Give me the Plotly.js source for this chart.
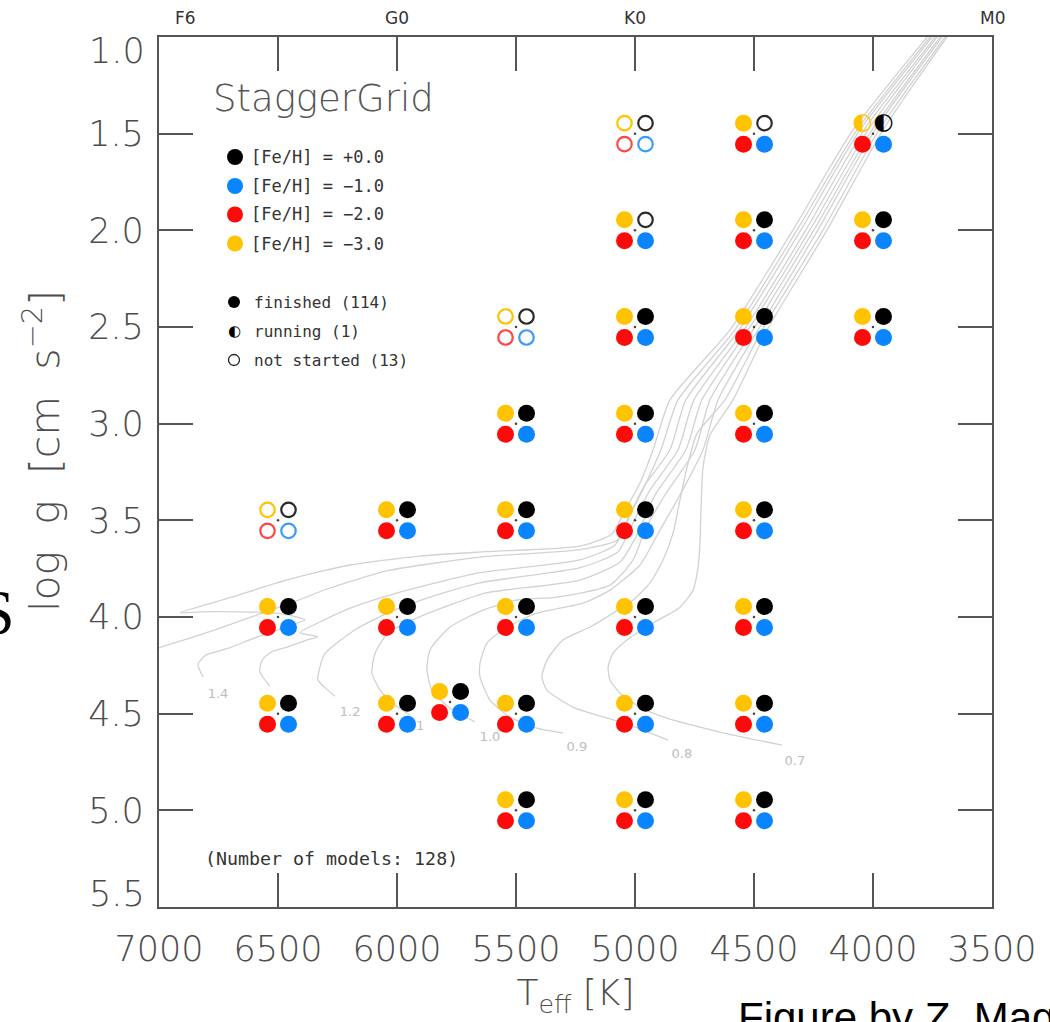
<!DOCTYPE html>
<html><head><meta charset="utf-8">
<script src="https://cdn.plot.ly/plotly-3.0.1.min.js"></script>
<style>html,body{margin:0;padding:0;background:#fff}#chart{width:1050px;height:1022px}</style>
</head><body><div id="chart"></div>
<script>
// ---------------- DATA ----------------
// StaggerGrid model positions (Teff [K], log g)
const gridTeff = [5000,4500,4000, 5000,4500,4000, 5500,5000,4500,4000, 5500,5000,4500,
                  6500,6000,5500,5000,4500, 6500,6000,5500,5000,4500,
                  6500,6000,5777,5500,5000,4500, 5500,5000,4500];
const gridLogg = [1.5,1.5,1.5, 2.0,2.0,2.0, 2.5,2.5,2.5,2.5, 3.0,3.0,3.0,
                  3.5,3.5,3.5,3.5,3.5, 4.0,4.0,4.0,4.0,4.0,
                  4.5,4.5,4.44,4.5,4.5,4.5, 5.0,5.0,5.0];
// status per model: f = finished, r = running, n = not started
const statusFeH_p0 = 'nnrnffnffffffn' + 'ffffffffffffffffff';
const statusFeH_m1 = 'nfffffnffffffn' + 'ffffffffffffffffff';
const statusFeH_m2 = 'nfffffnffffffn' + 'ffffffffffffffffff';
const statusFeH_m3 = 'nfrfffnffffffn' + 'ffffffffffffffffff';
const fehLegend = ['[Fe/H] = +0.0','[Fe/H] = \u22121.0','[Fe/H] = \u22122.0','[Fe/H] = \u22123.0'];
const statusLegend = ['finished (114)','running (1)','not started (13)'];
const modelCountText = '(Number of models: 128)';

// evolutionary tracks (Teff, log g)
const track15Teff = [7080,6987,6828,6681,6584,6408,6303,6038,5630,5231,5071,5021,4958,4891,4819,4580,4319,4067,3761,3706];
const track15Logg = [4.197,4.154,4.093,4.030,3.988,3.910,3.859,3.760,3.688,3.652,3.601,3.473,3.318,3.135,2.877,2.515,1.998,1.481,1.000,0.912];
const track14Teff = [6815,6836,6803,6714,6584,6450,6387,6492,6660,6828,6912,6702,6458,6197,5903,5630,5231,5097,5046,4979,4924,4853,4601,4336,4084,3773,3718];
const track14Logg = [4.311,4.244,4.197,4.164,4.102,4.045,4.014,3.983,3.973,3.973,3.978,3.900,3.807,3.731,3.685,3.662,3.633,3.571,3.457,3.307,3.135,2.877,2.515,1.998,1.481,1.000,0.912];
const track13Teff = [6534,6576,6567,6525,6458,6374,6332,6408,6324,6197,5987,5651,5231,5084,5029,4958,4853,4786,4563,4303,4055,3752,3697];
const track13Logg = [4.357,4.285,4.223,4.179,4.154,4.117,4.102,4.081,4.026,3.954,3.871,3.771,3.704,3.628,3.488,3.317,3.135,2.877,2.515,1.998,1.481,1.000,0.912];
const track12Teff = [6261,6303,6332,6324,6303,6176,6029,5861,5651,5231,5071,5013,4937,4819,4752,4542,4282,4038,3739,3685];
const track12Logg = [4.410,4.364,4.326,4.259,4.190,4.066,3.973,3.897,3.823,3.745,3.662,3.524,3.343,3.135,2.877,2.515,1.998,1.481,1.000,0.912];
const track11Teff = [5945,6008,6071,6105,6092,6038,5937,5756,5630,5231,5063,4992,4916,4786,4719,4525,4265,4021,3731,3676];
const track11Logg = [4.507,4.456,4.378,4.290,4.187,4.083,4.016,3.928,3.876,3.809,3.716,3.576,3.369,3.135,2.877,2.515,1.998,1.481,1.000,0.912];
const track10Teff = [5672,5777,5853,5874,5861,5777,5639,5496,5328,5105,5008,4958,4874,4748,4685,4504,4248,4004,3718,3664];
const track10Logg = [4.543,4.471,4.378,4.275,4.169,4.052,3.964,3.912,3.897,3.835,3.705,3.550,3.369,3.135,2.877,2.515,1.998,1.481,1.000,0.912];
const track09Teff = [5303,5412,5525,5609,5651,5651,5622,5538,5412,5218,5105,4979,4895,4811,4714,4651,4483,4231,3992,3710,3655];
const track09Logg = [4.600,4.575,4.518,4.430,4.311,4.238,4.135,4.052,3.980,3.928,3.861,3.731,3.550,3.369,3.135,2.877,2.515,1.998,1.481,1.000,0.912];
const track08Teff = [4861,5021,5261,5370,5391,5370,5303,5189,5092,5008,4937,4882,4840,4811,4781,4739,4622,4466,4210,3975,3697,3643];
const track08Logg = [4.637,4.559,4.466,4.378,4.311,4.223,4.119,4.052,3.980,3.912,3.824,3.705,3.566,3.395,3.224,3.049,2.877,2.515,1.998,1.481,1.000,0.912];
const track07Teff = [4382,4643,4866,4979,5063,5105,5113,5092,5034,4924,4811,4756,4735,4727,4723,4714,4685,4588,4445,4193,3958,3689,3634];
const track07Logg = [4.663,4.595,4.523,4.466,4.394,4.326,4.259,4.187,4.119,4.031,3.949,3.861,3.742,3.618,3.447,3.224,3.059,2.877,2.515,1.998,1.481,1.000,0.912];

// mass labels of the tracks
const massLabel = ['1.4','1.2','1.1','1.0','0.9','0.8','0.7'];
const massLabelTeff = [6752,6197,5929,5609,5244,4803,4328];
const massLabelLogg = [4.404,4.497,4.569,4.626,4.678,4.714,4.750];

// spectral types on the top axis
const spTypes = ['F6','G0','K0','M0'];
const spTeff  = [6890,6000,5000,3500];

const xTicks = [7000,6500,6000,5500,5000,4500,4000,3500];
const yTicksInner = [1.5,2.0,2.5,3.0,3.5,4.0,4.5,5.0];
const yTicksEdge = [1.0,5.5];   // labelled slightly inside the frame, as in the original
const xTitle = 'T<sub>eff</sub>\u00a0[K]';
const yTitle = 'log\u00a0\u00a0g\u00a0\u00a0[cm\u00a0\u00a0s<sup>\u22122</sup>]';

// ---------------- LAYOUT GEOMETRY ----------------
const W = 1050, H = 1022, PL = 159, PR = 992, PT = 37, PB = 907;
const xMin = 7000, xMax = 3500, yMin = 1.0, yMax = 5.5;
const kPerPx = (xMin - xMax) / (PR - PL);
const gPerPx = (yMax - yMin) / (PB - PT);
const quadPx = 10.5;               // offset of each sub-marker from the grid point
const dX = quadPx * kPerPx, dY = quadPx * gPerPx;
const px = v => (v - PL) / (PR - PL);
const py = v => (PB - v) / (PB - PT);

const grey = '#4d4d4d';
const tickFont = {family: 'DejaVu Sans', size: 35, color: grey, weight: 200};
const titleFont = {family: 'DejaVu Sans', size: 36, color: grey, weight: 200};
const traces = [];

// tracks
const tracks = [
  [track15Teff, track15Logg], [track14Teff, track14Logg], [track13Teff, track13Logg],
  [track12Teff, track12Logg], [track11Teff, track11Logg], [track10Teff, track10Logg],
  [track09Teff, track09Logg], [track08Teff, track08Logg], [track07Teff, track07Logg]
];
tracks.forEach(t => traces.push({
  type: 'scatter', mode: 'lines', x: t[0], y: t[1], hoverinfo: 'skip', showlegend: false,
  line: {color: '#d2d2d2', width: 1.3, shape: 'spline', smoothing: 0.6}
}));
// mass labels (drawn beneath the markers)
traces.push({
  type: 'scatter', mode: 'text', x: massLabelTeff, y: massLabelLogg, text: massLabel,
  textposition: 'middle center', showlegend: false, hoverinfo: 'skip',
  textfont: {family: 'DejaVu Sans', size: 13, color: '#bdbdbd'}
});
// grid-point centre dots
traces.push({
  type: 'scatter', mode: 'markers', x: gridTeff, y: gridLogg, showlegend: false, hoverinfo: 'skip',
  marker: {size: 2.5, color: '#444'}
});

// metallicity markers
const fehSets = [
  {status: statusFeH_p0, fill: '#000000', ring: '#2a2a2a', sx: -1, sy: -1},
  {status: statusFeH_m1, fill: '#0a84ff', ring: '#3a9bff', sx: -1, sy: 1},
  {status: statusFeH_m2, fill: '#ff0a0a', ring: '#ff4646', sx: 1, sy: 1},
  {status: statusFeH_m3, fill: '#ffc300', ring: '#ffc300', sx: 1, sy: -1}
];
fehSets.forEach((s, k) => {
  const pick = code => {
    const xs = [], ys = [];
    gridTeff.forEach((t, i) => { if (s.status[i] === code) { xs.push(t + s.sx * dX); ys.push(gridLogg[i] + s.sy * dY); } });
    return [xs, ys];
  };
  const [fx, fy] = pick('f'), [nx, ny] = pick('n'), [rx, ry] = pick('r');
  traces.push({type: 'scatter', mode: 'markers', x: fx, y: fy, name: fehLegend[k], showlegend: false,
    marker: {size: 17, color: s.fill, line: {width: 0}}});
  if (nx.length) traces.push({type: 'scatter', mode: 'markers', x: nx, y: ny, showlegend: false,
    marker: {symbol: 'circle-open', size: 14.5, color: s.ring, line: {width: 2.2, color: s.ring}}});
  if (rx.length) traces.push({type: 'scatter', mode: 'text', x: rx, y: ry, text: rx.map(() => '\u25D0'),
    textposition: 'middle center', showlegend: false,
    textfont: {family: 'DejaVu Sans', size: 23, color: s.fill}});
});

// ---------------- ANNOTATIONS / SHAPES ----------------
const annotations = [];
const shapes = [];
spTypes.forEach((s, i) => annotations.push({
  text: s, x: spTeff[i], xref: 'x', y: py(18), yref: 'paper', showarrow: false,
  xanchor: 'center', yanchor: 'middle', font: {family: 'DejaVu Sans', size: 17, color: '#333'}
}));
// edge tick labels of the y axis (shifted inside the frame like the original)
yTicksEdge.forEach((v, i) => annotations.push({
  text: v.toFixed(1), x: 0, xref: 'paper', xanchor: 'right', xshift: -12, y: v, yref: 'y',
  yanchor: 'middle', yshift: i === 0 ? -14 : 13, showarrow: false, font: tickFont
}));
// y-axis title (rotated), placed like the original
annotations.push({text: yTitle, textangle: -90, x: px(42), y: py(451), xref: 'paper', yref: 'paper',
  showarrow: false, xanchor: 'center', yanchor: 'middle',
  font: {family: 'DejaVu Sans', size: 41, color: grey, weight: 200}});
annotations.push({text: 'StaggerGrid', x: px(211), y: py(99), xref: 'paper', yref: 'paper', showarrow: false,
  xanchor: 'left', yanchor: 'middle', font: {family: 'DejaVu Sans', size: 37, color: '#555', weight: 200}});
const legRows = [157, 186, 214.5, 243.5];
fehSets.forEach((s, k) => {
  shapes.push({type: 'circle', xref: 'paper', yref: 'paper', xsizemode: 'pixel', ysizemode: 'pixel',
    xanchor: px(235), yanchor: py(legRows[k]), x0: -8, x1: 8, y0: -8, y1: 8,
    fillcolor: s.fill, line: {width: 0}});
  annotations.push({text: fehLegend[k], x: px(249), y: py(legRows[k]), xref: 'paper', yref: 'paper',
    showarrow: false, xanchor: 'left', yanchor: 'middle',
    font: {family: 'DejaVu Sans Mono', size: 17, color: '#333'}});
});
const stRows = [302, 331, 360];
shapes.push({type: 'circle', xref: 'paper', yref: 'paper', xsizemode: 'pixel', ysizemode: 'pixel',
  xanchor: px(234), yanchor: py(stRows[0]), x0: -6, x1: 6, y0: -6, y1: 6, fillcolor: '#000', line: {width: 0}});
annotations.push({text: '\u25D0', x: px(234), y: py(stRows[1]), xref: 'paper', yref: 'paper', showarrow: false,
  xanchor: 'center', yanchor: 'middle', font: {family: 'DejaVu Sans', size: 15, color: '#000'}});
shapes.push({type: 'circle', xref: 'paper', yref: 'paper', xsizemode: 'pixel', ysizemode: 'pixel',
  xanchor: px(234), yanchor: py(stRows[2]), x0: -5.5, x1: 5.5, y0: -5.5, y1: 5.5, fillcolor: 'rgba(0,0,0,0)',
  line: {width: 1.3, color: '#222'}});
statusLegend.forEach((t, k) => annotations.push({text: t, x: px(252), y: py(stRows[k]), xref: 'paper', yref: 'paper',
  showarrow: false, xanchor: 'left', yanchor: 'middle', font: {family: 'DejaVu Sans Mono', size: 16, color: '#333'}}));
annotations.push({text: modelCountText, x: px(203), y: py(858), xref: 'paper', yref: 'paper', showarrow: false,
  xanchor: 'left', yanchor: 'middle', font: {family: 'DejaVu Sans Mono', size: 18.3, color: '#333'}});
// slide remnants
annotations.push({text: 'S', x: px(16), y: py(612), xref: 'paper', yref: 'paper', showarrow: false, borderpad: 0,
  xanchor: 'right', yanchor: 'middle', font: {family: 'Liberation Serif', size: 64, color: '#000'}});
annotations.push({text: 'Figure by Z. Magic', x: px(737), y: py(993), xref: 'paper', yref: 'paper', showarrow: false,
  borderpad: 0, xanchor: 'left', yanchor: 'top', font: {family: 'Liberation Sans', size: 42, color: '#000'}});

const axisCommon = {
  showgrid: false, zeroline: false, showline: true, linecolor: '#555', linewidth: 2.2,
  mirror: 'ticks', ticks: 'inside', ticklen: 34, tickwidth: 2, tickcolor: '#555',
  tickfont: tickFont
};

const layout = {
  width: W, height: H, paper_bgcolor: '#fff', plot_bgcolor: '#fff',
  margin: {l: PL, r: W - PR, t: PT, b: H - PB},
  showlegend: false,
  xaxis: Object.assign({}, axisCommon, {
    range: [xMin, xMax], tickmode: 'array', tickvals: xTicks, ticktext: xTicks.map(String),
    ticklabelstandoff: 10,
    title: {text: xTitle, font: titleFont, standoff: 12}
  }),
  yaxis: Object.assign({}, axisCommon, {
    range: [yMax, yMin], tickmode: 'array', tickvals: yTicksInner, ticktext: yTicksInner.map(v => v.toFixed(1)),
    ticklabelstandoff: 6
  }),
  annotations: annotations,
  shapes: shapes
};

Plotly.newPlot('chart', traces, layout, {staticPlot: true, displayModeBar: false});
</script>
</body></html>
